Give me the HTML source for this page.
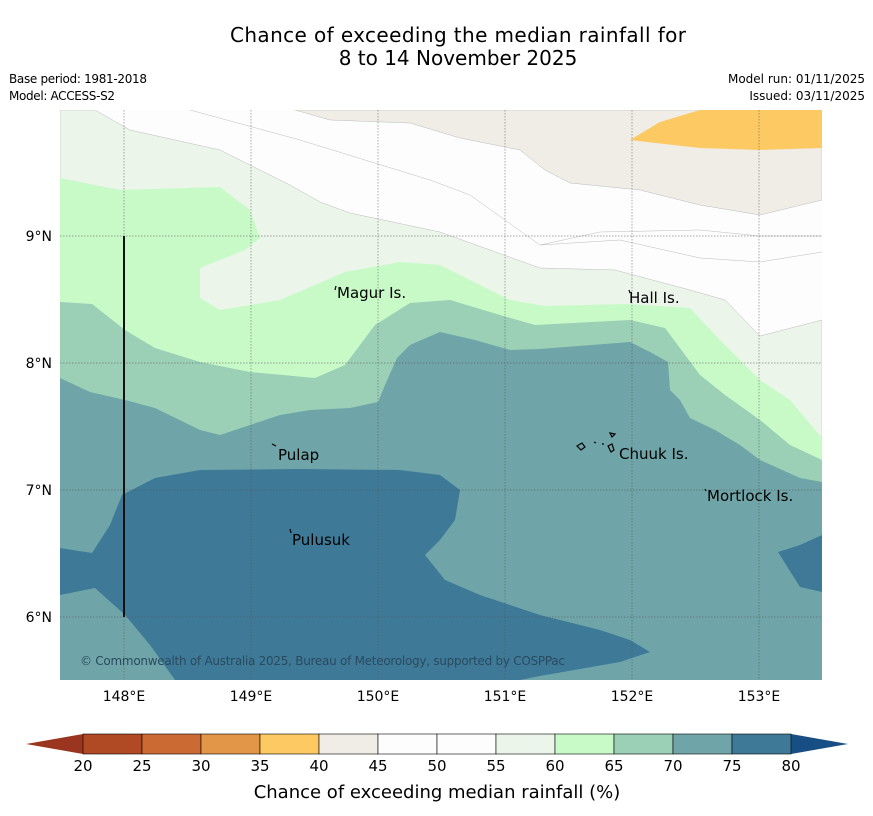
<!DOCTYPE html>
<html><head><meta charset="utf-8"><style>
body{margin:0;background:#fff;}
svg{display:block;font-family:"DejaVu Sans","Liberation Sans",sans-serif;}
</style></head><body>
<svg id="chart" width="873" height="816" viewBox="0 0 873 816">
<rect width="873" height="816" fill="#fff"/>
<text x="458" y="42" text-anchor="middle" font-size="20" fill="#000" textLength="456">Chance of exceeding the median rainfall for</text>
<text x="458" y="65" text-anchor="middle" font-size="20" fill="#000">8 to 14 November 2025</text>
<text x="9" y="83" font-size="12" fill="#000" textLength="138">Base period: 1981-2018</text>
<text x="9" y="100" font-size="12" fill="#000" textLength="106">Model: ACCESS-S2</text>
<text x="865" y="83" font-size="12" text-anchor="end" fill="#000">Model run: 01/11/2025</text>
<text x="865" y="100" font-size="12" text-anchor="end" fill="#000">Issued: 03/11/2025</text>

<g>
<clipPath id="mc"><rect x="60" y="110" width="762" height="570"/></clipPath>
<g clip-path="url(#mc)">
<rect x="60" y="110" width="762" height="570" fill="#fdfdfd"/>
<polygon fill="#f0ece6" stroke="#bbb" stroke-width="0.5" points="295,110 330,120 410,123 460,138 520,150 545,170 570,183 640,190 700,205 760,215 822,200 822,110"/>
<polygon fill="#fdc962" points="630,140 660,122 700,110 822,110 822,148 760,150 700,148"/>
<polyline fill="none" stroke="#bbb" stroke-width="0.5" points="190,110 300,140 430,180 470,195 540,245 620,240 700,258 760,262 822,252"/>
<polyline fill="none" stroke="#bbb" stroke-width="0.5" points="540,245 600,232 700,230 760,236 822,236"/>
<polygon fill="#ebf5ea" stroke="#bbb" stroke-width="0.5" points="60,110 95,110 130,130 220,150 250,165 290,185 320,202 350,213 440,232 540,268 615,270 690,290 725,300 760,336 822,320 822,680 60,680"/>
<polygon fill="#c8fac8" points="60,178 120,190 220,187 250,210 260,238 245,250 200,268 200,298 220,310 280,300 345,272 400,262 440,265 470,280 510,300 545,306 625,304 690,308 720,340 760,380 790,400 822,438 822,680 60,680"/>
<polygon fill="#9bcfb6" points="60,302 92,304 125,330 155,348 200,362 250,372 315,378 345,365 375,325 410,303 450,300 500,315 535,325 630,320 665,328 700,375 725,395 760,420 790,445 822,460 822,680 60,680"/>
<polygon fill="#6fa5a8" points="60,378 90,392 125,400 155,408 200,430 220,435 280,415 310,410 350,408 378,402 385,385 397,358 410,345 440,332 475,340 510,350 540,349 630,342 650,352 668,362 670,390 680,400 690,418 715,430 740,445 760,460 800,478 822,482 822,680 60,680"/>
<polygon fill="#3e7a98" points="60,548 92,553 110,525 122,495 155,478 200,470 300,469 400,470 440,475 460,490 455,520 440,540 425,555 445,580 480,595 540,615 600,630 630,640 650,652 620,662 540,676 520,680 175,680 150,645 125,615 95,588 60,595"/>
<polygon fill="#3e7a98" points="822,535 800,545 778,552 800,587 822,592"/>
<g id="grid" stroke="#555" stroke-width="0.7" stroke-dasharray="1.5,1.5" opacity="0.7"></g>
<line x1="124" y1="236" x2="124" y2="617" stroke="#111" stroke-width="2"/>
<text x="80" y="665" font-size="12" fill="#2a4a60" textLength="485">© Commonwealth of Australia 2025, Bureau of Meteorology, supported by COSPPac</text>
<g font-size="15" fill="#000">
<text x="337" y="298">Magur Is.</text>
<text x="629" y="303">Hall Is.</text>
<text x="278" y="460">Pulap</text>
<text x="619" y="459">Chuuk Is.</text>
<text x="707" y="501">Mortlock Is.</text>
<text x="292" y="545">Pulusuk</text>
</g>
<g fill="none" stroke="#000" stroke-width="1.2">
<path d="M336,286 l-1,4"/><path d="M272,444 l4,2"/><path d="M290,529 l1,4"/><path d="M629,290 l1,3"/><path d="M705,489 l1,2"/>
<path d="M577,446 l5,-3 l3,4 l-4,3z"/><path d="M610,433 l5,1 l-3,3z"/><path d="M608,446 l4,-2 l2,6 l-3,2z"/><path d="M594,442 l2,1"/><path d="M602,444 l2,0"/>
</g>
</g>
</g>
<g id="axes" font-size="14" fill="#000"></g>
<g id="cbar"></g>
<text x="437" y="798" text-anchor="middle" font-size="18" fill="#000">Chance of exceeding median rainfall (%)</text>
<script>
const lonTicks=[148,149,150,151,152,153];
const latTicks=[9,8,7,6];
const cbLevels=[20,25,30,35,40,45,50,55,60,65,70,75,80];
const cbColors=["#b04a25","#cc6a33","#e29748","#fdc962","#f0ece6","#fdfdfd","#fdfdfd","#ebf5ea","#c8fac8","#9bcfb6","#6fa5a8","#3e7a98"];
const ns="http://www.w3.org/2000/svg";
const xOf=lon=>124+(lon-148)*127;
const yOf=lat=>236+(9-lat)*127;
const grid=document.getElementById('grid'),axes=document.getElementById('axes'),cb=document.getElementById('cbar');
function mk(tag,attrs,parent){const e=document.createElementNS(ns,tag);for(const k in attrs)e.setAttribute(k,attrs[k]);parent.appendChild(e);return e;}
lonTicks.forEach(l=>{
 const g=mk('line',{x1:xOf(l),x2:xOf(l),y1:110,y2:680},grid);
 
 
 const t=mk('text',{x:xOf(l),y:701,'text-anchor':'middle'},axes);t.textContent=l+'°E';
 
 
});
latTicks.forEach(l=>{
 const g=mk('line',{x1:60,x2:822,y1:yOf(l),y2:yOf(l)},grid);
 
 
 const t=mk('text',{x:52,y:yOf(l)+5,'text-anchor':'end'},axes);t.textContent=l+'°N';
 
 
});
const cx0=83,cx1=791,cy=734,ch=20;
const cw=(cx1-cx0)/cbColors.length;
const lt=mk('polygon',{points:`26,744 ${cx0},${cy} ${cx0},${cy+ch}`,fill:'#9a3520'},cb);


const rt=mk('polygon',{points:`848,744 ${cx1},${cy} ${cx1},${cy+ch}`,fill:'#174f85'},cb);


cbColors.forEach((c,i)=>{
 const r=mk('rect',{x:cx0+i*cw,y:cy,width:cw,height:ch,fill:c,stroke:'#000','stroke-width':0.6},cb);
 
 
});
cbLevels.forEach((v,i)=>{
 const t=mk('text',{x:cx0+i*cw,y:771,'text-anchor':'middle','font-size':15},cb);t.textContent=v;
 
 
});
</script>
</svg>
</body></html>
